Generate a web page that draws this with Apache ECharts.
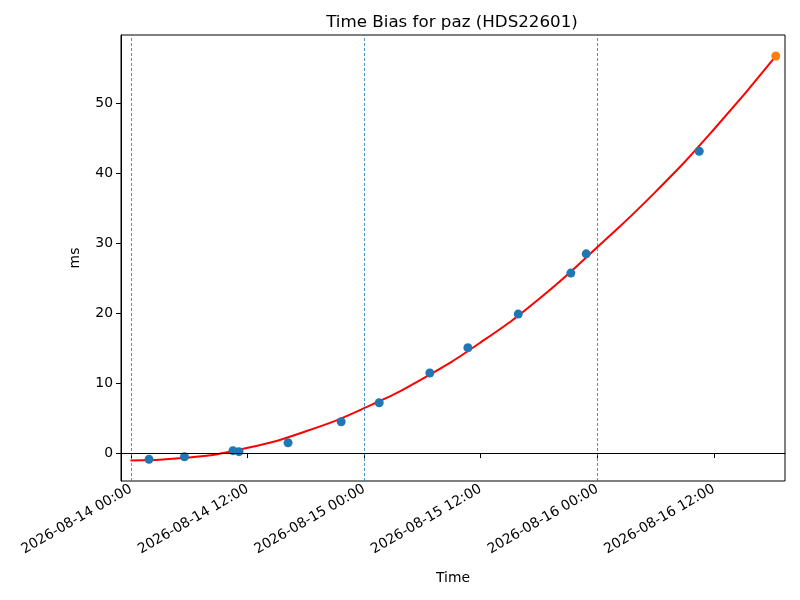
<!DOCTYPE html>
<html>
	<head>
		<meta charset="utf-8">
		<title>Time Bias</title>
		<script src="https://cdn.jsdelivr.net/npm/echarts@6/dist/echarts.min.js"></script>
	</head>
	<body style="margin: 0; overflow: hidden;">
		<div id="main" style="width: 800px; height: 600px;"></div>
		<script type="text/javascript">
			// measured bias samples (blue dots)
			var sampleTimes = ['2026-08-14 01:51', '2026-08-14 05:30', '2026-08-14 10:30', '2026-08-14 11:07',
				'2026-08-14 16:10', '2026-08-14 21:38', '2026-08-15 01:33', '2026-08-15 06:46',
				'2026-08-15 10:41', '2026-08-15 15:52', '2026-08-15 21:17', '2026-08-15 22:52',
				'2026-08-16 10:30'];
			var sampleValues = [-0.91, -0.53, 0.33, 0.19, 1.47, 4.47, 7.18, 11.42, 15.03, 19.84, 25.69, 28.44, 43.1];

			// predicted point (orange)
			var predTimes = ['2026-08-16 18:23'];
			var predValues = [56.7];

			// fitted curve
			var fitTimes = ['2026-08-13 23:56', '2026-08-14 06:00', '2026-08-14 12:00', '2026-08-14 18:00',
				'2026-08-15 00:00', '2026-08-15 06:00', '2026-08-15 12:00', '2026-08-15 18:00',
				'2026-08-16 00:00', '2026-08-16 06:00', '2026-08-16 12:00', '2026-08-16 18:23'];
			var fitValues = [-1.06, -0.64, 0.74, 3.1, 6.4, 10.6, 15.8, 22.0, 29.4, 37.3, 46.2, 56.7];

			// tick labels
			var xTickLabels = ['2026-08-14 00:00', '2026-08-14 12:00', '2026-08-15 00:00',
				'2026-08-15 12:00', '2026-08-16 00:00', '2026-08-16 12:00'];
			var dayLines = ['2026-08-14 00:00', '2026-08-15 00:00', '2026-08-16 00:00'];
			var yTicks = [0, 10, 20, 30, 40, 50];

			function toMs(s) {
				return new Date(s.replace(' ', 'T')).getTime();
			}
			function pairs(ts, vs) {
				return ts.map(function (t, i) { return [toMs(t), vs[i]]; });
			}
			function pad(n) {
				return (n < 10 ? '0' : '') + n;
			}
			function fmt(v) {
				var d = new Date(v);
				return d.getFullYear() + '-' + pad(d.getMonth() + 1) + '-' + pad(d.getDate()) +
					' ' + pad(d.getHours()) + ':' + pad(d.getMinutes());
			}
			var xTickValues = xTickLabels.map(toMs);
			var font = 'DejaVu Sans';

			var myChart = echarts.init(document.getElementById('main'));
			var option = {
				animation: false,
				textStyle: { fontFamily: font },
				title: {
					text: 'Time Bias for paz (HDS22601)',
					left: 447,
					top: 9,
					textAlign: 'center',
					textStyle: { fontFamily: font, fontSize: 16.7, fontWeight: 'normal', color: '#000' }
				},
				grid: {
					left: 121, right: 15, top: 35, bottom: 119,
					show: true, borderColor: '#000', borderWidth: 1
				},
				xAxis: {
					type: 'value',
					scale: true,
					min: toMs('2026-08-13 22:58'),
					max: toMs('2026-08-16 19:20'),
					name: 'Time',
					nameLocation: 'middle',
					nameGap: 90,
					nameTextStyle: { fontFamily: font, fontSize: 13.9, color: '#000' },
					splitLine: { show: false },
					axisLine: { lineStyle: { color: '#000', width: 1 } },
					axisTick: { show: true, length: 5, customValues: xTickValues, lineStyle: { color: '#000' } },
					axisLabel: {
						customValues: xTickValues,
						rotate: 30,
						margin: 7,
						fontFamily: font,
						fontSize: 13.9,
						color: '#000',
						formatter: fmt
					}
				},
				yAxis: {
					type: 'value',
					min: -4.0,
					max: 59.7,
					name: 'ms',
					nameLocation: 'middle',
					nameGap: 39,
					nameTextStyle: { fontFamily: font, fontSize: 13.9, color: '#000' },
					splitLine: { show: false },
					axisLine: { show: true, lineStyle: { color: '#000', width: 1 } },
					axisTick: { show: true, length: 5, customValues: yTicks, lineStyle: { color: '#000' } },
					axisLabel: { customValues: yTicks, margin: 8, fontFamily: font, fontSize: 13.9, color: '#000' }
				},
				series: [
					{
						name: 'fit',
						type: 'line',
						data: pairs(fitTimes, fitValues),
						smooth: true,
						showSymbol: false,
						lineStyle: { color: '#ff0000', width: 2 },
						z: 2,
						markLine: {
							silent: true,
							symbol: 'none',
							label: { show: false },
							data: dayLines.map(function (d) {
								return { xAxis: toMs(d), lineStyle: { color: '#1f77b4', type: [3, 2], width: 0.8 } };
							}).concat([{ yAxis: 0, lineStyle: { color: '#000', type: 'solid', width: 0.8 } }])
						}
					},
					{
						name: 'samples',
						type: 'scatter',
						data: pairs(sampleTimes, sampleValues),
						symbolSize: 9,
						itemStyle: { color: '#1f77b4', opacity: 1 },
						z: 3
					},
					{
						name: 'prediction',
						type: 'scatter',
						data: pairs(predTimes, predValues),
						symbolSize: 9,
						itemStyle: { color: '#ff7f0e', opacity: 1 },
						z: 4
					}
				]
			};
			myChart.setOption(option);
		</script>
	</body>
</html>
